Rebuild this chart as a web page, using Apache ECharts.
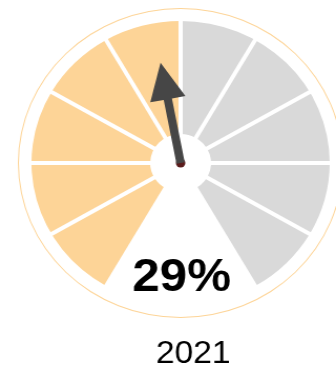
<!DOCTYPE html>
<html>
<head>
<meta charset="utf-8">
<script src="https://cdn.jsdelivr.net/npm/echarts@6/dist/echarts.min.js"></script>
<style>
  html, body { margin: 0; padding: 0; background: #fff; overflow: hidden; }
  #chart { width: 320px; height: 371px; transform: scaleX(1.05); transform-origin: 0 0; }
</style>
</head>
<body>
<div id="chart"></div>
<script>
// Gauge data
var categories = ['2021'];
var values = [29];
var gaugeMin = 0;
var gaugeMax = 62.5;
var segmentCount = 10;

var chart = echarts.init(document.getElementById('chart'), null, { renderer: 'canvas' });

var orange = '#FDD497';
var grey = '#D9D9D9';
var bandWidth = 113;
var fontFamily = 'Liberation Sans, Arial, sans-serif';

var option = {
  animation: false,
  series: [
    {
      // thin outer ring
      type: 'gauge',
      center: [172, 163],
      radius: 155,
      startAngle: 90,
      endAngle: -270,
      silent: true,
      axisLine: { lineStyle: { width: 1, color: [[1, orange]] } },
      splitLine: { show: false },
      axisTick: { show: false },
      axisLabel: { show: false },
      pointer: { show: false },
      anchor: { show: false },
      title: { show: false },
      detail: { show: false },
      data: []
    },
    {
      type: 'gauge',
      center: [172, 163],
      radius: 142,
      startAngle: 240,
      endAngle: -60,
      min: gaugeMin,
      max: gaugeMax,
      splitNumber: segmentCount,
      axisLine: {
        lineStyle: { width: bandWidth, color: [[0.5, orange], [1, grey]] }
      },
      splitLine: {
        show: true,
        distance: -bandWidth - 2,
        length: bandWidth + 4,
        lineStyle: { color: '#ffffff', width: 4 }
      },
      axisTick: { show: false },
      axisLabel: { show: false },
      pointer: {
        show: true,
        icon: 'path://M17 0 L34 37 L21 37 L21 102 L13 102 L13 37 L0 37 Z',
        length: 102,
        width: 34,
        offsetCenter: [0, 0],
        itemStyle: { color: '#464646' }
      },
      anchor: {
        show: true,
        showAbove: false,
        size: 9,
        itemStyle: { color: '#5a1c1c' }
      },
      title: {
        show: true,
        offsetCenter: [12, 191],
        fontSize: 32,
        color: '#000',
        fontFamily: fontFamily
      },
      detail: {
        show: true,
        offsetCenter: [1, 115],
        fontSize: 47,
        fontWeight: 'bold',
        color: '#000',
        fontFamily: fontFamily,
        formatter: '{value}%'
      },
      data: categories.map(function (name, i) {
        return { name: name, value: values[i] };
      })
    }
  ]
};

chart.setOption(option);
</script>
</body>
</html>
